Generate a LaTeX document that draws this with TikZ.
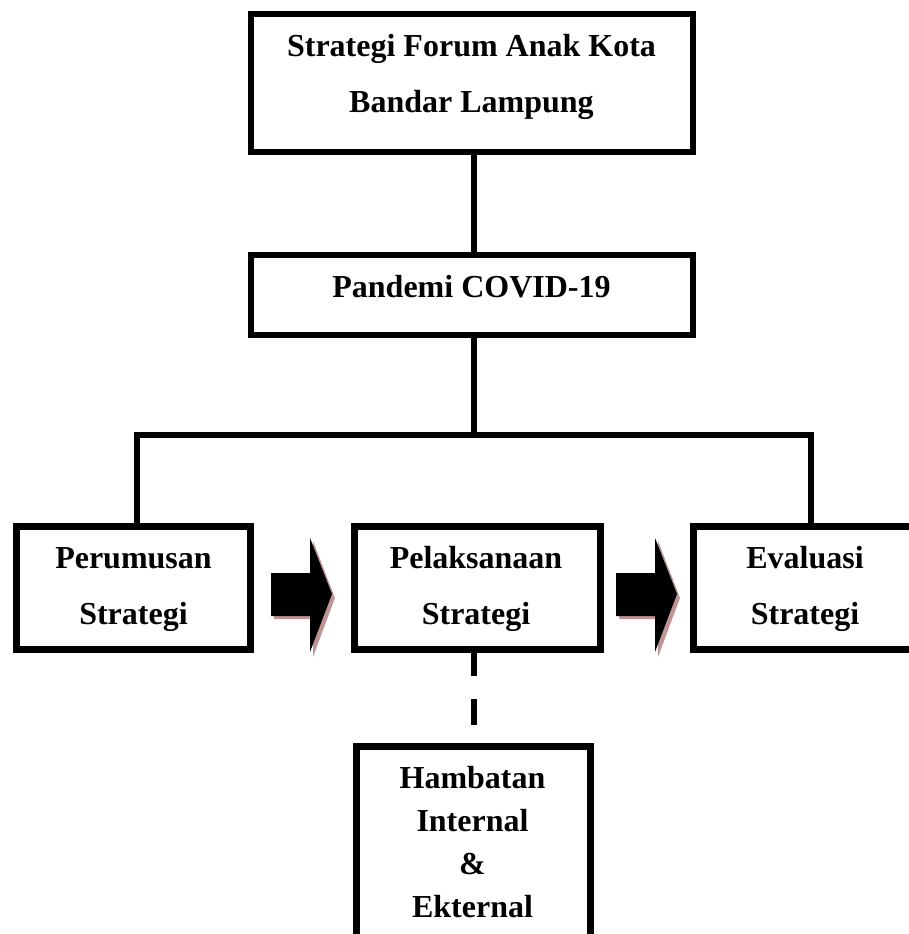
\documentclass[tikz,border=0pt]{standalone}
\usepackage{fontspec}
\setmainfont{Liberation Serif}
\definecolor{arrowshadow}{RGB}{190,148,148}
\tikzset{
  boxthin/.style={draw=black, line width=6pt, outer sep=0pt, inner sep=0pt, fill=white},
  boxthick/.style={draw=black, line width=7pt, outer sep=0pt, inner sep=0pt, fill=white},
  txt/.style={font=\bfseries\fontsize{32}{55}\selectfont, align=center, inner sep=0pt, anchor=base},
  txtsmall/.style={font=\bfseries\fontsize{32}{43}\selectfont, align=center, inner sep=0pt, anchor=base},
  conn/.style={line width=6pt, line join=miter},
}
\begin{document}
\begin{tikzpicture}[x=1pt,y=-1pt]
\useasboundingbox (0,0) rectangle (909,934);
\clip (0,0) rectangle (909,934);
% boxes
\node[boxthin, minimum width=442pt, minimum height=138pt] (top) at (472,83) {};
\node[boxthin, minimum width=442pt, minimum height=80pt] (pandemi) at (472,295) {};
\node[boxthick, minimum width=234pt, minimum height=123pt] (perumusan) at (133.5,588) {};
\node[boxthick, minimum width=246pt, minimum height=123pt] (pelaksanaan) at (477.5,588) {};
\node[boxthick, minimum width=246pt, minimum height=123pt] (evaluasi) at (816.5,588) {};
\node[boxthick, minimum width=234pt, minimum height=230pt] (hambatan) at (473.5,861.5) {};
% texts (base anchor = baseline of the last line)
\node[txt] (ttop) at (471.5,112) {Strategi Forum Anak Kota\\Bandar Lampung};
\node[txt] (tpandemi) at (471.5,297) {Pandemi COVID-19};
\node[txt, font=\bfseries\fontsize{32}{56}\selectfont] (tperumusan) at (133.5,624) {Perumusan\\Strategi};
\node[txt, font=\bfseries\fontsize{32}{56}\selectfont] (tpelaksanaan) at (476,624) {Pelaksanaan\\Strategi};
\node[txt, font=\bfseries\fontsize{32}{56}\selectfont] (tevaluasi) at (805,624) {Evaluasi\\Strategi};
\node[txtsmall] (thambatan) at (472.5,917) {Hambatan\\Internal\\\&\\ Ekternal};
% connectors
\coordinate (jm) at (474,435);
\coordinate (jl) at (137,435);
\coordinate (jr) at (811,435);
\draw[conn] (top.south -| jm) -- (pandemi.north -| jm);
\draw[conn] (pandemi.south -| jm) -- (jm);
\draw[conn] (jl |- perumusan.north) -- (jl) -- (jr) -- (jr |- evaluasi.north);
\draw[line width=6pt, dash pattern=on 26pt off 23pt] (pelaksanaan.south -| jm) -- (hambatan.north -| jm);
% block arrows (shadow then arrow)
\foreach \ax in {271,616} {
  \fill[arrowshadow] (\ax+3,576) -- (\ax+42,576) -- (\ax+42,541) -- (\ax+64,598) -- (\ax+42,657) -- (\ax+42,619) -- (\ax+3,619) -- cycle;
  \fill[black] (\ax,573) -- (\ax+39,573) -- (\ax+39,538) -- (\ax+61,594) -- (\ax+39,652) -- (\ax+39,616) -- (\ax,616) -- cycle;
}
\end{tikzpicture}
\end{document}
